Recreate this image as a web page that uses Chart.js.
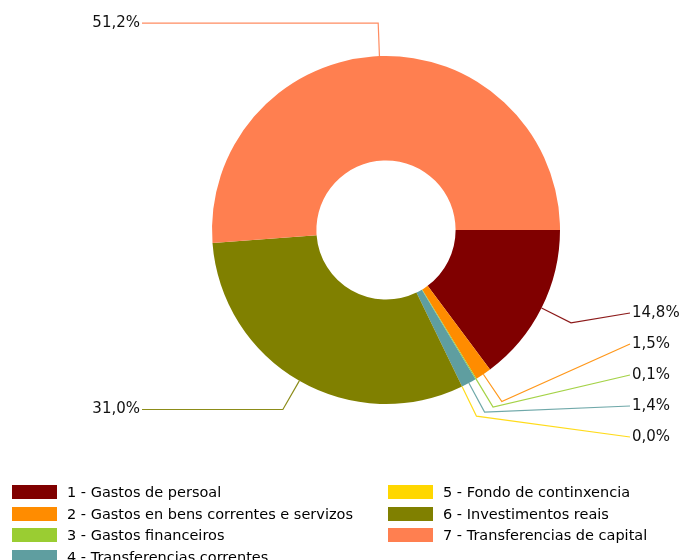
<!DOCTYPE html>
<html>
<head>
<meta charset="utf-8">
<script src="https://cdn.jsdelivr.net/npm/chart.js@4/dist/chart.umd.min.js"></script>
<style>
    html, body { margin: 0; padding: 0; background: #fff; }
    #wrap { position: relative; width: 683px; height: 560px; overflow: hidden; font-family: "DejaVu Sans", sans-serif; }
    #chart-box { position: absolute; left: 0; top: 0; width: 683px; height: 460px; }
    #legend { position: absolute; left: 0; top: 0; width: 683px; height: 560px; }
    .item { position: absolute; height: 18px; font-size: 14.5px; line-height: 18px; color: #000; white-space: nowrap; }
    .swatch { position: absolute; left: 0; top: 2px; width: 45px; height: 14px; }
    .item .t { position: absolute; left: 55px; top: 0; }
</style>
</head>
<body>
<div id="wrap">
    <div id="chart-box"><canvas id="chart"></canvas></div>
    <div id="legend"></div>
</div>
<script>
const categories = [
    "1 - Gastos de persoal",
    "2 - Gastos en bens correntes e servizos",
    "3 - Gastos financeiros",
    "4 - Transferencias correntes",
    "5 - Fondo de continxencia",
    "6 - Investimentos reais",
    "7 - Transferencias de capital"
];
const values = [14.8, 1.5, 0.1, 1.4, 0.0, 31.0, 51.2];
const colors = ["#800000", "#ff8c00", "#9acd32", "#5f9ea0", "#ffd700", "#808000", "#ff7f50"];

// labels outside the ring, with broken leader lines
const leaderLabels = {
    id: "leaderLabels",
    afterDraw(chart) {
        const ctx = chart.ctx;
        const meta = chart.getDatasetMeta(0);
        const ext = 33;
        const gap = 31;

        const items = meta.data.map((arc, i) => {
            const p = arc.getProps(["x", "y", "startAngle", "endAngle", "outerRadius"], true);
            const mid = (p.startAngle + p.endAngle) / 2;
            const c = Math.cos(mid), s = Math.sin(mid);
            return {
                i: i, cx: p.x, cy: p.y, r: p.outerRadius,
                x0: p.x + c * p.outerRadius, y0: p.y + s * p.outerRadius,
                x1: p.x + c * (p.outerRadius + ext), y1: p.y + s * (p.outerRadius + ext),
                right: c >= 0
            };
        });

        [true, false].forEach(side => {
            const list = items.filter(it => it.right === side).sort((a, b) => a.y1 - b.y1);
            if (!list.length) return;
            const top = list[0].cy - list[0].r - ext;
            const bottom = list[0].cy + list[0].r + ext;
            list.forEach((it, k) => {
                it.ly = k === 0 ? it.y1 : Math.max(it.y1, list[k - 1].ly + gap);
            });
            for (let k = list.length - 1; k >= 0; k--) {
                const lim = k === list.length - 1 ? bottom : list[k + 1].ly - gap;
                list[k].ly = Math.min(list[k].ly, lim);
            }
            list.forEach(it => { it.ly = Math.max(it.ly, top); });
        });

        ctx.save();
        ctx.font = "15px 'DejaVu Sans', sans-serif";
        ctx.textBaseline = "middle";
        items.forEach(it => {
            const lx = it.right ? it.cx + it.r + 70 : it.cx - it.r - 70;
            ctx.strokeStyle = colors[it.i];
            ctx.globalAlpha = 0.9;
            ctx.lineWidth = 1.2;
            ctx.beginPath();
            ctx.moveTo(it.x0, it.y0);
            ctx.lineTo(it.x1, it.y1);
            ctx.lineTo(lx, it.ly);
            ctx.stroke();
            ctx.globalAlpha = 1;
            ctx.fillStyle = "#111";
            ctx.textAlign = it.right ? "left" : "right";
            const txt = values[it.i].toFixed(1).replace(".", ",") + "%";
            ctx.fillText(txt, it.right ? lx + 2 : lx - 2, it.ly);
        });
        ctx.restore();
    }
};

new Chart(document.getElementById("chart").getContext("2d"), {
    type: "doughnut",
    data: {
        labels: categories,
        datasets: [{
            data: values,
            backgroundColor: colors,
            borderWidth: 0
        }]
    },
    options: {
        responsive: true,
        maintainAspectRatio: false,
        animation: false,
        rotation: 90,
        cutout: "40%",
        layout: { padding: { top: 56, bottom: 56, left: 89, right: 0 } },
        plugins: {
            legend: { display: false },
            tooltip: { enabled: false }
        }
    },
    plugins: [leaderLabels]
});

// legend in two columns, filled top to bottom
const legend = document.getElementById("legend");
categories.forEach((name, i) => {
    const col = Math.floor(i / 4), row = i % 4;
    const el = document.createElement("div");
    el.className = "item";
    el.style.left = (col ? 388 : 12) + "px";
    el.style.top = (483 + row * 21.7) + "px";
    el.innerHTML = '<div class="swatch" style="background:' + colors[i] + '"></div><span class="t"></span>';
    el.querySelector(".t").textContent = name;
    legend.appendChild(el);
});
</script>
</body>
</html>
